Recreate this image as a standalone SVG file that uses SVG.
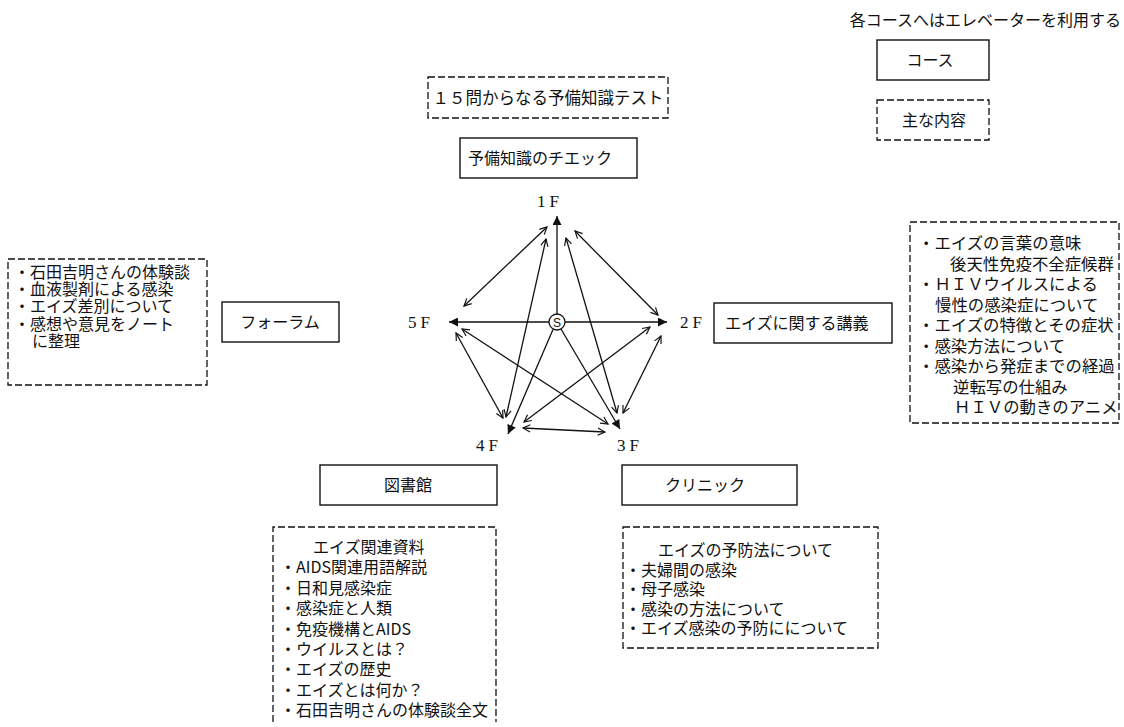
<svg xmlns="http://www.w3.org/2000/svg" width="1124" height="727" viewBox="0 0 1124 727">
<defs>
<style>
.t{font-family:"Noto Sans CJK JP","Noto Sans",sans-serif;font-size:16px;fill:#111}
.f{font-family:"Liberation Serif","Noto Sans CJK JP",serif;font-size:17px;fill:#111;letter-spacing:4px}
.box{fill:none;stroke:#111;stroke-width:1.4}
.dbox{fill:none;stroke:#111;stroke-width:1.3;stroke-dasharray:7 3}
.ln{stroke:#111;stroke-width:1.3;fill:none}
.dbl{marker-start:url(#open);marker-end:url(#open)}
.sgl{marker-end:url(#solid)}
</style>
<marker id="open" viewBox="0 0 10 10" refX="9" refY="5" markerWidth="9" markerHeight="9" markerUnits="userSpaceOnUse" orient="auto-start-reverse">
<path d="M1,1 L9,5 L1,9" fill="none" stroke="#111" stroke-width="1.3"/>
</marker>
<marker id="solid" viewBox="0 0 10 10" refX="10" refY="5" markerWidth="11" markerHeight="9" markerUnits="userSpaceOnUse" orient="auto">
<path d="M0,0 L10,5 L0,10 Z" fill="#111"/>
</marker>
</defs>
<rect width="1124" height="727" fill="#fff"/>

<g id="legend">
<text class="t" x="1121" y="26" text-anchor="end">各コースへはエレベーターを利用する</text>
<rect class="box" x="877" y="40" width="112" height="40"/>
<text class="t" x="930" y="66" text-anchor="middle">コース</text>
<rect class="dbox" x="877" y="100" width="112" height="40"/>
<text class="t" x="934" y="126" text-anchor="middle">主な内容</text>
</g>

<g id="test-content">
<rect class="dbox" x="428" y="77" width="240" height="41"/>
<text class="t" x="548" y="104" text-anchor="middle" style="font-size:16.5px">１５問からなる予備知識テスト</text>
</g>
<g id="floor1-course">
<rect class="box" x="460" y="138" width="177" height="40"/>
<text class="t" x="468" y="164">予備知識のチエック</text>
</g>

<g id="floor5-content">
<rect class="dbox" x="8" y="259" width="199" height="126"/>
<text class="t"><tspan x="14" y="278">・石田吉明さんの体験談</tspan><tspan x="14" y="295">・血液製剤による感染</tspan><tspan x="14" y="312">・エイズ差別について</tspan><tspan x="14" y="330">・感想や意見をノート</tspan><tspan x="32" y="347">に整理</tspan></text>
</g>
<g id="floor5-course">
<rect class="box" x="222" y="302" width="117" height="40"/>
<text class="t" x="280" y="328" text-anchor="middle">フォーラム</text>
</g>

<g id="floor2-course">
<rect class="box" x="714" y="303" width="178" height="40"/>
<text class="t" x="725" y="329">エイズに関する講義</text>
</g>
<g id="floor2-content">
<rect class="dbox" x="910" y="222" width="209" height="201"/>
<text class="t" style="font-size:16.4px"><tspan x="918" y="249">・エイズの言葉の意味</tspan><tspan x="950" y="269.5">後天性免疫不全症候群</tspan><tspan x="918" y="290">・ＨＩＶウイルスによる</tspan><tspan x="935" y="310.5">慢性の感染症について</tspan><tspan x="918" y="331">・エイズの特徴とその症状</tspan><tspan x="918" y="351.5">・感染方法について</tspan><tspan x="918" y="372">・感染から発症までの経過</tspan><tspan x="953" y="392.5">逆転写の仕組み</tspan><tspan x="954" y="413">ＨＩＶの動きのアニメ</tspan></text>
</g>

<g id="floor4-course">
<rect class="box" x="320" y="465" width="177" height="40"/>
<text class="t" x="408" y="491" text-anchor="middle">図書館</text>
</g>
<g id="floor4-content">
<path class="dbox" d="M273,722 L273,527 L496,527 L496,722"/>
<text class="t"><tspan x="313" y="553">エイズ関連資料</tspan><tspan x="280" y="573.4">・AIDS関連用語解説</tspan><tspan x="280" y="593.8">・日和見感染症</tspan><tspan x="280" y="614.2">・感染症と人類</tspan><tspan x="280" y="634.6">・免疫機構とAIDS</tspan><tspan x="280" y="655">・ウイルスとは？</tspan><tspan x="280" y="675.4">・エイズの歴史</tspan><tspan x="280" y="695.8">・エイズとは何か？</tspan><tspan x="280" y="716.2">・石田吉明さんの体験談全文</tspan></text>
</g>

<g id="floor3-course">
<rect class="box" x="622" y="465" width="175" height="40"/>
<text class="t" x="705" y="491" text-anchor="middle">クリニック</text>
</g>
<g id="floor3-content">
<rect class="dbox" x="623" y="527" width="255" height="121"/>
<text class="t"><tspan x="658" y="556">エイズの予防法について</tspan><tspan x="625" y="576">・夫婦間の感染</tspan><tspan x="625" y="595">・母子感染</tspan><tspan x="625" y="615">・感染の方法について</tspan><tspan x="625" y="634">・エイズ感染の予防にについて</tspan></text>
</g>

<g id="floor-labels">
<text class="f" x="537" y="207">1F</text>
<text class="f" x="408" y="328">5F</text>
<text class="f" x="680" y="328">2F</text>
<text class="f" x="476" y="451">4F</text>
<text class="f" x="617" y="451">3F</text>
</g>

<g id="start">
<circle cx="557" cy="322" r="8" fill="#fff" stroke="#111" stroke-width="1.3"/>
<text x="557" y="326.5" text-anchor="middle" style="font-family:'Liberation Sans',sans-serif;font-size:12px;fill:#111">S</text>
</g>

<g id="connectors">
<line class="ln sgl" x1="557" y1="314" x2="557" y2="216"/>
<line class="ln sgl" x1="549" y1="322" x2="449" y2="322"/>
<line class="ln sgl" x1="565" y1="322" x2="667" y2="322"/>
<line class="ln sgl" x1="553" y1="329.5" x2="508" y2="434"/>
<line class="ln sgl" x1="561" y1="329" x2="620" y2="429"/>
<line class="ln dbl" x1="547" y1="227" x2="464" y2="306"/>
<line class="ln dbl" x1="575" y1="231" x2="658" y2="315"/>
<line class="ln dbl" x1="546" y1="239" x2="506" y2="417"/>
<line class="ln dbl" x1="566" y1="238" x2="617" y2="413"/>
<line class="ln dbl" x1="456" y1="333" x2="503" y2="418"/>
<line class="ln dbl" x1="462" y1="329" x2="608" y2="424"/>
<line class="ln dbl" x1="650" y1="327" x2="524" y2="422"/>
<line class="ln dbl" x1="661" y1="336" x2="623" y2="413"/>
<line class="ln dbl" x1="523" y1="428" x2="605" y2="432"/>
</g>
</svg>
